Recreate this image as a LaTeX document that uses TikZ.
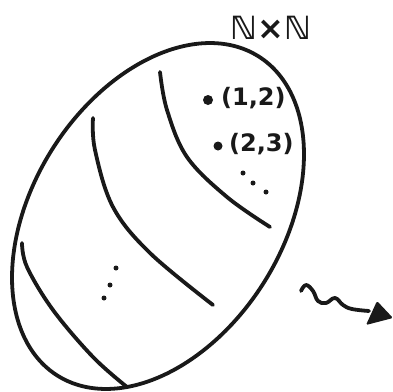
\documentclass[tikz,border=0pt]{standalone}
\usepackage{fontspec}
\setmainfont{DejaVu Sans}
\begin{document}
\begin{tikzpicture}[x=1pt,y=-1pt,
  ink/.style={line width=3.8pt,line cap=round,line join=round,black!90},
  dotmark/.style={circle,fill=black!90,inner sep=0pt,minimum size=#1},
  lbl/.style={inner sep=0pt,text=black!90,font=\fontsize{24}{26}\selectfont\bfseries}]
\useasboundingbox (0,0) rectangle (393,391);
% outer egg
\draw[ink] plot[domain=0:360,samples=120,smooth cycle]
  ({158+100.6*cos(\x)+105.8*sin(\x)},{216-159.6*cos(\x)+66.7*sin(\x)});
% inner curves
\draw[ink] plot[smooth,tension=0.6] coordinates {(160,72) (167,110) (187,157) (227,197) (270,227)};
\draw[ink] plot[smooth,tension=0.6] coordinates {(93,118) (95,150) (113,207) (150,253) (213,305)};
\draw[ink] plot[smooth,tension=0.6] coordinates {(22,243) (27,267) (53,310) (93,357) (127,387)};
% points
\node[dotmark=10pt] (p1) at (208,100) {};
\node[lbl,anchor=west] (t1) at (221,98) {(1,2)};
\node[dotmark=9pt] (p2) at (218,146) {};
\node[lbl,anchor=west] (t2) at (229,144) {(2,3)};
\node[dotmark=5pt] (d1) at (243,173) {};
\node[dotmark=5pt] (d2) at (253,183) {};
\node[dotmark=5pt] (d3) at (266,192) {};
\node[dotmark=5pt] (e1) at (116,268) {};
\node[dotmark=5pt] (e2) at (110,285) {};
\node[dotmark=5pt] (e3) at (104,298) {};
% label
\node[lbl,font=\fontsize{32}{34}\selectfont\bfseries] (nn) at (271,28) {ℕ×ℕ};
% squiggle arrow
\coordinate (s0) at (301,291);
\coordinate (s1) at (369,311);
\draw[ink] plot[smooth,tension=0.7] coordinates {(s0) (306,285) (313,291) (318,301) (326,303) (335,298) (343,305) (352,309) (s1)};
\fill[black!90,rounded corners=1.5pt] (366,325) -- (377,301) -- (393,318) -- cycle;
\end{tikzpicture}
\end{document}
